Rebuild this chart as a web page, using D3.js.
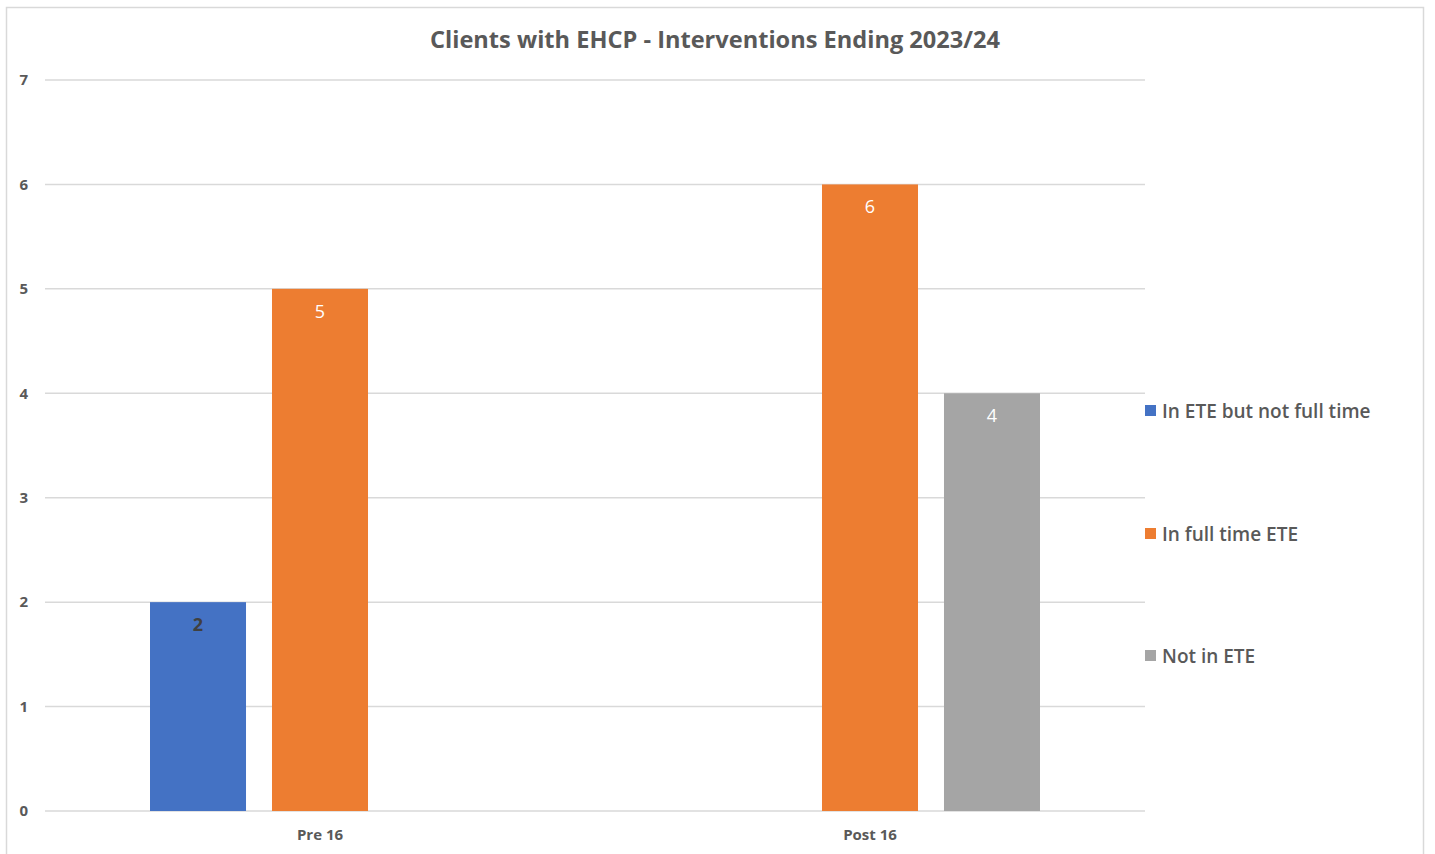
<!DOCTYPE html>
<html><head><meta charset="utf-8">
<script src="https://cdn.jsdelivr.net/npm/d3@7"></script>
<style>body{margin:0;background:#fff;} text{font-family:"Open Sans","Noto Sans",sans-serif;}</style>
</head><body>
<svg id="c" width="1435" height="854"></svg>
<script>
const title = "Clients with EHCP - Interventions Ending 2023/24";
const categories = ["Pre 16", "Post 16"];
const seriesNames = ["In ETE but not full time", "In full time ETE", "Not in ETE"];
const seriesColors = ["#4472C4", "#ED7D31", "#A5A5A5"];
const labelColors = ["#404040", "#ffffff", "#ffffff"];
const inEteNotFull = [2, null];
const inFullTime = [5, 6];
const notInEte = [null, 4];
const yTicks = [0, 1, 2, 3, 4, 5, 6, 7];

const seriesValues = [inEteNotFull, inFullTime, notInEte];
const svg = d3.select("#c");

// chart frame
svg.append("rect").attr("x", 6.5).attr("y", 7.5).attr("width", 1417).attr("height", 860)
  .attr("fill", "#fff").attr("stroke", "#d9d9d9").attr("stroke-width", 1.5);

const plot = {left: 45, right: 1145, top: 80, bottom: 811};
const x0 = d3.scaleBand().domain(categories).range([plot.left, plot.right]).paddingInner(0).paddingOuter(0);
const x1 = d3.scaleBand().domain(d3.range(seriesNames.length)).range([105, 445]).paddingInner(0.213).paddingOuter(0);
const y = d3.scaleLinear().domain([0, 7]).range([plot.bottom, plot.top]);

// gridlines
svg.append("g").selectAll("line").data(yTicks).join("line")
  .attr("x1", plot.left).attr("x2", plot.right)
  .attr("y1", d => y(d)).attr("y2", d => y(d))
  .attr("stroke", "#d9d9d9").attr("stroke-width", 1.5);

// y axis labels
const yAxis = d3.axisLeft(y).tickValues(yTicks).tickFormat(d3.format("d")).tickSize(0).tickPadding(17);
const ya = svg.append("g").attr("transform", `translate(${plot.left},0)`).call(yAxis);
ya.select(".domain").remove();
ya.selectAll("text").attr("font-size", 15).attr("font-weight", 700).attr("fill", "#595959")
  .attr("font-family", "'Open Sans',sans-serif");

// x axis labels
const xAxis = d3.axisBottom(x0).tickSize(0).tickPadding(18);
const xa = svg.append("g").attr("transform", `translate(0,${plot.bottom})`).call(xAxis);
xa.select(".domain").remove();
xa.selectAll("text").attr("font-size", 15).attr("font-weight", 700).attr("fill", "#595959")
  .attr("font-family", "'Open Sans',sans-serif");

// bars
const bars = [];
categories.forEach((c, ci) => {
  seriesValues.forEach((vals, si) => {
    if (vals[ci] != null) bars.push({c, si, v: vals[ci]});
  });
});
const g = svg.append("g");
g.selectAll("rect").data(bars).join("rect")
  .attr("x", d => x0(d.c) + x1(d.si))
  .attr("width", x1.bandwidth())
  .attr("y", d => y(d.v))
  .attr("height", d => y(0) - y(d.v))
  .attr("fill", d => seriesColors[d.si]);
g.selectAll("text").data(bars).join("text")
  .attr("x", d => x0(d.c) + x1(d.si) + x1.bandwidth() / 2)
  .attr("y", d => y(d.v) + 29)
  .attr("text-anchor", "middle")
  .attr("font-size", 18)
  .attr("font-weight", d => d.si === 0 ? 700 : 400)
  .attr("fill", d => labelColors[d.si])
  .text(d => d.v);

// title
svg.append("text").attr("x", 715).attr("y", 48).attr("text-anchor", "middle")
  .attr("font-size", 24).attr("font-weight", 700).attr("fill", "#595959")
  .attr("textLength", 570).attr("lengthAdjust", "spacingAndGlyphs").text(title);

// legend
const legY = [411, 534, 656];
const leg = svg.append("g").selectAll("g").data(seriesNames).join("g")
  .attr("transform", (d, i) => `translate(1145,${legY[i]})`);
leg.append("rect").attr("x", 0).attr("y", -6).attr("width", 11).attr("height", 11)
  .attr("fill", (d, i) => seriesColors[i]);
leg.append("text").attr("x", 17).attr("y", 7).attr("font-size", 19).attr("font-weight", 600)
  .attr("fill", "#595959").text(d => d);
</script>
</body></html>
